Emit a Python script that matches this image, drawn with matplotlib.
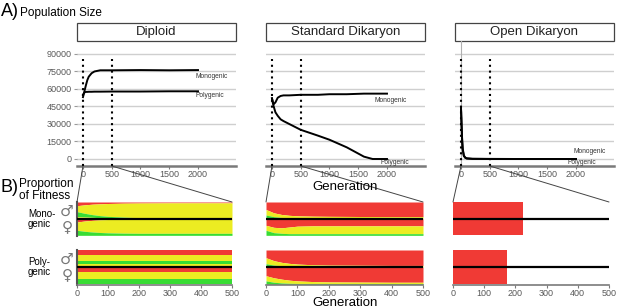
import numpy as np
import matplotlib
matplotlib.use('Agg')
import matplotlib.pyplot as plt
from matplotlib.patches import Rectangle, ConnectionPatch

plt.rcParams['font.family'] = ['Liberation Sans', 'DejaVu Sans']

W, H = 617., 308.

# ----------------------------------------------------------------------
# A) population size
gen_dip = [0, 25, 50, 75, 100, 150, 200, 300, 500, 1000, 1500, 2000]
dip_mono = [53000, 58000, 63000, 67500, 70500, 73500, 75000, 76000, 76000, 76200, 76000, 76200]
dip_poly = [55000, 57000, 57500, 57500, 57600, 57600, 57700, 57700, 57800, 57800, 58000, 58000]

gen_std = [0, 15, 30, 60, 100, 150, 200, 300, 500, 800, 1000, 1300, 1600, 1750, 2000]
std_mono = [52000, 49000, 47000, 48500, 52500, 54000, 54500, 54500, 55000, 55000, 55500, 55500, 56000, 56000, 56000]
std_poly = [52000, 48000, 45000, 40000, 37000, 34000, 32500, 30000, 25000, 20000, 16500, 10000, 2000, 0, 0]

gen_open = [0, 10, 20, 30, 50, 75, 100, 200, 500, 1000, 1500, 2000]
open_mono = [44000, 30000, 17000, 9000, 3000, 1200, 600, 200, 100, 0, 0, 0]
open_poly = [44000, 29000, 16000, 8000, 2500, 1000, 400, 100, 0, 0, 0, 0]

pop_yticks = [0, 15000, 30000, 45000, 60000, 75000, 90000]
pop_xticks = [0, 500, 1000, 1500, 2000]
panel_titles = ['Diploid', 'Standard Dikaryon', 'Open Dikaryon']

# ----------------------------------------------------------------------
# B) proportion of fitness (fractions of each half, red / green / extra yellow)
band_gen = [0, 25, 50, 75, 100, 150, 200, 300, 400, 500]

dip_mono_m_red = [0.22, 0.17, 0.13, 0.11, 0.09, 0.07, 0.06, 0.05, 0.05, 0.05]
dip_mono_m_green = [0.30, 0.22, 0.16, 0.12, 0.09, 0.05, 0.03, 0.01, 0.0, 0.0]
dip_mono_m_yel2 = [0.12, 0.10, 0.08, 0.06, 0.05, 0.04, 0.03, 0.02, 0.02, 0.02]
dip_mono_f_red = [0.20, 0.14, 0.10, 0.07, 0.05, 0.03, 0.02, 0.02, 0.02, 0.02]
dip_mono_f_green = [0.30, 0.24, 0.20, 0.17, 0.15, 0.13, 0.12, 0.12, 0.12, 0.12]

dip_poly_m_red = [0.31] * 10
dip_poly_m_green = [0.19] * 10
dip_poly_m_yel2 = [0.19] * 10
dip_poly_f_red = [0.27] * 10
dip_poly_f_green = [0.33] * 10

std_mono_m_red = [0.45, 0.65, 0.75, 0.80, 0.83, 0.85, 0.86, 0.87, 0.88, 0.88]
std_mono_m_green = [0.22, 0.12, 0.07, 0.05, 0.04, 0.03, 0.02, 0.02, 0.02, 0.02]
std_mono_f_red = [0.40, 0.52, 0.55, 0.50, 0.45, 0.43, 0.43, 0.43, 0.43, 0.43]
std_mono_f_green = [0.30, 0.16, 0.12, 0.10, 0.10, 0.10, 0.10, 0.10, 0.10, 0.10]

std_poly_m_red = [0.45, 0.62, 0.72, 0.78, 0.82, 0.86, 0.88, 0.89, 0.90, 0.90]
std_poly_m_green = [0.20, 0.12, 0.08, 0.06, 0.05, 0.04, 0.03, 0.02, 0.02, 0.02]
std_poly_f_red = [0.50, 0.62, 0.70, 0.76, 0.80, 0.84, 0.86, 0.87, 0.88, 0.88]
std_poly_f_green = [0.20, 0.12, 0.08, 0.06, 0.05, 0.05, 0.05, 0.05, 0.05, 0.05]

open_mono_gen = [0, 224]
open_poly_gen = [0, 173]
open_red = [1.0, 1.0]
open_zero = [0.0, 0.0]

RED = '#f03a35'
YEL = '#ecec22'
GRN = '#38dc34'
GRAY = '#595959'


def px(x, y):
    return x / W, 1 - y / H


def axes_px(fig, x0, y0, x1, y1):
    return fig.add_axes([x0 / W, 1 - y1 / H, (x1 - x0) / W, (y1 - y0) / H])


# ----------------------------------------------------------------------
def pop_panel(ax, title, curves, labels, first=False):
    ax.set_xlim(-104, 2661)
    ax.set_ylim(-6000, 101100)
    ax.set_yticks(pop_yticks)
    ax.set_xticks(pop_xticks)
    ax.yaxis.grid(True, color='#cfcfcf', lw=1.0)
    ax.set_axisbelow(True)
    for s in ['top', 'right', 'left']:
        ax.spines[s].set_visible(False)
    ax.spines['bottom'].set_color('#7a7a7a')
    ax.spines['bottom'].set_linewidth(1.8)
    ax.tick_params(axis='x', colors='#7a7a7a', labelcolor=GRAY, labelsize=6.5,
                   length=2.5, pad=0.6)
    if first:
        ax.set_yticklabels([str(v) for v in pop_yticks])
        ax.tick_params(axis='y', colors='#9a9a9a', labelcolor=GRAY, labelsize=6.5,
                       length=2.5, pad=1.5)
    else:
        ax.tick_params(axis='y', length=0, labelleft=False)

    # dotted guides at 0 and 500
    for g in [0, 500]:
        ax.plot([g, g], [-6000, 86000], color='black', lw=1.5,
                linestyle=(0, (1, 1.8)), zorder=3)

    for gx, gy in curves:
        ax.plot(gx, gy, color='black', lw=1.4, zorder=4)
    for txt, x, y in labels:
        ax.text(x, y, txt, fontsize=4.8, color='#333333', va='center', ha='left')

    # strip header
    ax.add_patch(Rectangle((0, 1), 1, 18 / 125., transform=ax.transAxes,
                           fc='white', ec='#444444', lw=0.9, clip_on=False))
    ax.text(0.5, 1 + 9 / 125., title, transform=ax.transAxes, ha='center',
            va='center', fontsize=9.5, color='#222222')


def draw_half(ax, gens, red, green, yel2, top):
    red = np.array(red)
    green = np.array(green)
    yel2 = np.array(yel2) if yel2 is not None else np.zeros(len(red))
    yel = 1 - red - green - yel2
    y = top
    for frac, col in [(red, RED), (yel, YEL), (green, GRN), (yel2, YEL)]:
        ax.fill_between(gens, y, y - frac, color=col, lw=0)
        y = y - frac


def fit_panel(ax, halves, bottom_axis=False, left_spine=False):
    ax.set_xlim(0, 500)
    ax.set_ylim(-1.04, 1.0)
    for gens, red, green, yel2, top in halves:
        draw_half(ax, gens, red, green, yel2, top)
    ax.plot([0, 500], [0, 0], color='black', lw=1.6, zorder=3)
    ax.set_yticks([])
    for s in ['top', 'right']:
        ax.spines[s].set_visible(False)
    ax.spines['left'].set_visible(left_spine)
    ax.spines['left'].set_color('#555555')
    ax.spines['left'].set_linewidth(1.5)
    if bottom_axis:
        ax.set_xticks([0, 100, 200, 300, 400, 500])
        ax.spines['bottom'].set_color('#7a7a7a')
        ax.spines['bottom'].set_linewidth(1.2)
        ax.tick_params(axis='x', colors='#7a7a7a', labelcolor=GRAY, labelsize=6.5,
                       length=2.5, pad=0.6)
    else:
        ax.spines['bottom'].set_visible(False)
        ax.set_xticks([])


# ----------------------------------------------------------------------
fig = plt.figure(figsize=(W / 100, H / 100), dpi=100)

col_x = [77, 266, 455]
bot_x = [(77, 232), (266, 423), (453, 609)]

top_axes = []
curves = [[(gen_dip, dip_mono), (gen_dip, dip_poly)],
          [(gen_std, std_mono), (gen_std, std_poly)],
          [(gen_open, open_mono), (gen_open, open_poly)]]
labels = [[('Monogenic', 1950, 71000), ('Polygenic', 1950, 54000)],
          [('Monogenic', 1790, 50500), ('Polygenic', 1880, -3400)],
          [('Monogenic', 1950, 6000), ('Polygenic', 1860, -3400)]]
for i in range(3):
    ax = axes_px(fig, col_x[i], 41, col_x[i] + 159, 166)
    pop_panel(ax, panel_titles[i], curves[i], labels[i], first=(i == 0))
    top_axes.append(ax)
# open dikaryon: thin gray line at generation 0
top_axes[2].axvline(0, color='#b0b0b0', lw=0.8, zorder=2)

mono_halves = [
    [(band_gen, dip_mono_m_red, dip_mono_m_green, dip_mono_m_yel2, 1.0),
     (band_gen, dip_mono_f_red, dip_mono_f_green, None, 0.0)],
    [(band_gen, std_mono_m_red, std_mono_m_green, None, 1.0),
     (band_gen, std_mono_f_red, std_mono_f_green, None, 0.0)],
    [(open_mono_gen, open_red, open_zero, None, 1.0),
     (open_mono_gen, open_red, open_zero, None, 0.0)],
]
poly_halves = [
    [(band_gen, dip_poly_m_red, dip_poly_m_green, dip_poly_m_yel2, 1.0),
     (band_gen, dip_poly_f_red, dip_poly_f_green, None, 0.0)],
    [(band_gen, std_poly_m_red, std_poly_m_green, None, 1.0),
     (band_gen, std_poly_f_red, std_poly_f_green, None, 0.0)],
    [(open_poly_gen, open_red, open_zero, None, 1.0),
     (open_poly_gen, open_red, open_zero, None, 0.0)],
]

for i in range(3):
    x0, x1 = bot_x[i]
    axm = axes_px(fig, x0, 202, x1, 236)
    fit_panel(axm, mono_halves[i], left_spine=(i == 0))
    axp = axes_px(fig, x0, 250, x1, 285)
    fit_panel(axp, poly_halves[i], bottom_axis=True, left_spine=(i == 0))

    # zoom connectors from 0 and 500 on the top axis
    for g in [0, 500]:
        con = ConnectionPatch(xyA=(g, -6000), coordsA='data', axesA=top_axes[i],
                              xyB=(g, 1.0), coordsB='data', axesB=axm,
                              color='#444444', lw=0.7)
        fig.add_artist(con)

# ----------------------------------------------------------------------
# Text
fig.text(*px(1, 12), 'A)', fontsize=13, va='center', ha='left')
fig.text(*px(20, 13), 'Population Size', fontsize=8.5, va='center', ha='left')
fig.text(*px(1, 187), 'B)', fontsize=13, va='center', ha='left')
fig.text(*px(19, 190), 'Proportion\nof Fitness', fontsize=8.5, va='center',
         ha='left', linespacing=0.95)
fig.text(*px(28, 219), 'Mono-\ngenic', fontsize=7, va='center', ha='left',
         linespacing=0.95)
fig.text(*px(28, 267), 'Poly-\ngenic', fontsize=7, va='center', ha='left',
         linespacing=0.95)
for yc in [202, 250]:
    fig.text(*px(67, yc + 9), '\u2642', fontsize=11, color='#777777',
             va='center', ha='center', family=['DejaVu Sans'])
    fig.text(*px(67, yc + 25), '\u2640', fontsize=11, color='#777777',
             va='center', ha='center', family=['DejaVu Sans'])
fig.text(*px(345, 187), 'Generation', fontsize=9.5, va='center', ha='center')
fig.text(*px(345, 303), 'Generation', fontsize=9.5, va='center', ha='center')

fig.savefig('out.png', dpi=100)
